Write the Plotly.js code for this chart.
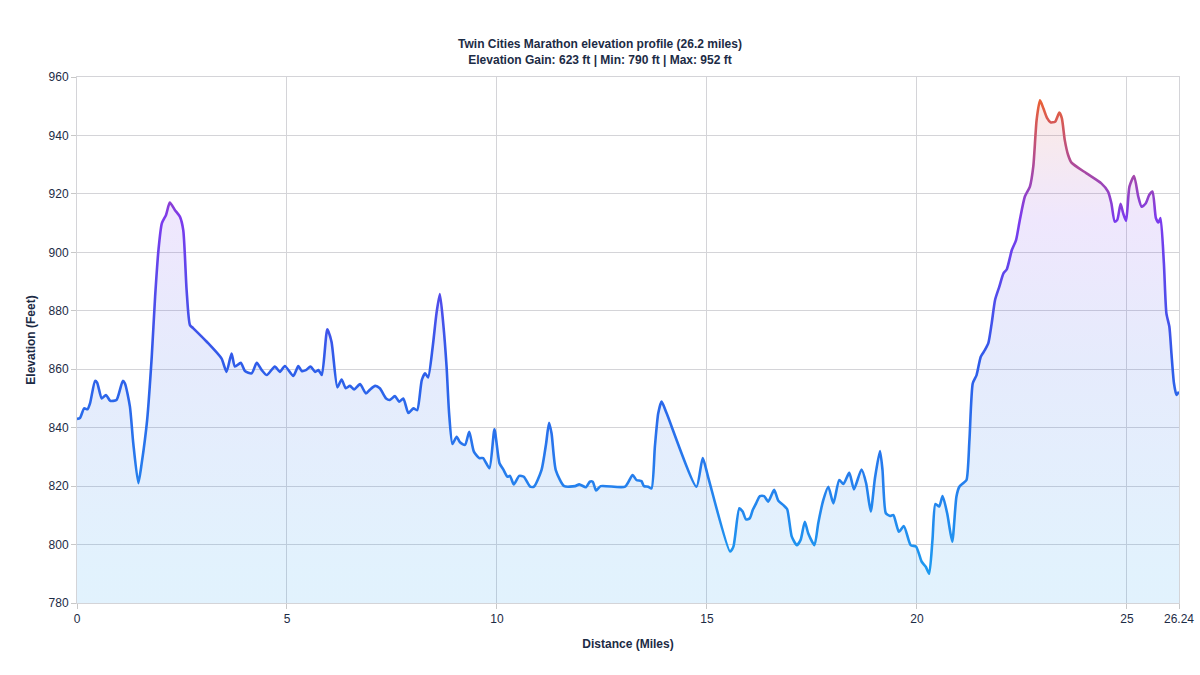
<!DOCTYPE html>
<html>
<head>
<meta charset="utf-8">
<script src="https://cdn.plot.ly/plotly-3.0.1.min.js"></script>
<style>
  html, body { margin: 0; padding: 0; background: #ffffff; }
  #chart { width: 1200px; height: 675px; }
</style>
</head>
<body>
<div id="chart"></div>
<script>
// Distance along the course (miles)
const distanceMiles = [
  0, 0.07, 0.17, 0.25, 0.31, 0.43, 0.48, 0.59, 0.69, 0.79, 0.94, 1.09, 1.14, 1.26, 1.34, 1.46, 1.54, 1.67, 1.78, 1.86,
  1.94, 2.02, 2.12, 2.21, 2.33, 2.45, 2.53, 2.61, 2.69, 2.77, 3.09, 3.44, 3.56, 3.68, 3.76, 3.9, 4.0, 4.16, 4.28, 4.4,
  4.52, 4.71, 4.83, 4.95, 5.15, 5.27, 5.35, 5.45, 5.56, 5.67, 5.75, 5.83, 5.96, 6.06, 6.2, 6.3, 6.4, 6.5, 6.6, 6.74,
  6.88, 6.98, 7.1, 7.21, 7.36, 7.45, 7.57, 7.67, 7.77, 7.89, 8.01, 8.1, 8.21, 8.29, 8.36, 8.47, 8.56, 8.64, 8.72, 8.8,
  8.86, 8.94, 9.04, 9.12, 9.24, 9.34, 9.45, 9.58, 9.67, 9.82, 9.94, 10.06, 10.15, 10.25, 10.31, 10.4, 10.53, 10.64, 10.79, 10.88,
  11.06, 11.17, 11.24, 11.3, 11.4, 11.6, 11.86, 11.96, 12.12, 12.21, 12.28, 12.36, 12.47, 13.05, 13.23, 13.32, 13.44, 13.5, 13.6, 13.68,
  13.76, 13.84, 13.92, 14.04, 14.75, 14.9, 15.03, 15.55, 15.63, 15.77, 15.85, 15.93, 16.02, 16.09, 16.17, 16.26, 16.36, 16.46, 16.6, 16.7,
  16.82, 16.91, 17.02, 17.14, 17.23, 17.33, 17.41, 17.56, 17.65, 17.77, 17.89, 18.01, 18.15, 18.25, 18.39, 18.5, 18.68, 18.79, 18.9, 19.0,
  19.12, 19.18, 19.26, 19.36, 19.44, 19.57, 19.69, 19.85, 19.98, 20.11, 20.21, 20.29, 20.37, 20.44, 20.53, 20.61, 20.72, 20.84, 20.94, 21.01,
  21.1, 21.18, 21.25, 21.33, 21.42, 21.52, 21.62, 21.7, 21.78, 21.86, 21.96, 22.06, 22.14, 22.26, 22.36, 22.45, 22.57, 22.69, 22.77, 22.85,
  22.93, 23.01, 23.1, 23.18, 23.29, 23.39, 23.45, 23.52, 23.6, 23.68, 24.04, 24.39, 24.55, 24.63, 24.71, 24.77, 24.85, 24.91, 24.98, 25.06,
  25.17, 25.27, 25.35, 25.45, 25.53, 25.61, 25.69, 25.75, 25.8, 25.88, 25.94, 26.01, 26.06, 26.12, 26.18, 26.24
];

// Elevation (feet)
const elevationFeet = [
  843, 843.3, 846.6, 846.3, 848.3, 856, 855.4, 850, 851.2, 849.2, 849.5, 856, 855.2, 847.2, 834.6, 821, 827.8, 842.6, 864.3, 884.8,
  900.8, 909.9, 912.8, 917, 914.5, 912.2, 907.6, 887.1, 875.1, 874, 869.4, 863.7, 859.1, 865.4, 860.9, 862.2, 859.4, 858.6, 862.2, 859.7,
  858, 860.9, 859.1, 861.1, 857.7, 861.1, 859.4, 859.7, 860.9, 859.1, 859.7, 858, 873.7, 869.4, 853.8, 856.5, 853.5, 854.3, 853.1, 854.9,
  851.7, 853.1, 854.3, 853.5, 850, 849.5, 850.8, 848.9, 850, 845, 846.6, 846, 856.3, 858.6, 857.2, 867.7, 879.1, 885.7, 875.7, 860.9,
  845, 834.4, 836.9, 835, 834.1, 838.6, 831.8, 829.6, 829.6, 826.1, 839.4, 827.8, 825.7, 823.2, 823.5, 820.6, 823.5, 823.2, 819.8, 819.8,
  825.5, 834.6, 841.7, 838, 825.5, 820, 820, 820.6, 819.6, 821.5, 821.5, 818.5, 820, 819.8, 823.8, 822.1, 821.7, 820, 819.8, 819.2,
  833.5, 844.9, 848.9, 844.9, 819.8, 829.6, 823, 797.6, 799.3, 812.4, 811.3, 808.6, 809, 811.8, 814.1, 816.6, 816.6, 814.7, 818.7, 815,
  813.5, 812.1, 802.7, 799.8, 801.6, 807.8, 803.9, 799.8, 807.3, 815.2, 819.8, 814.1, 822.1, 820.7, 824.6, 818.9, 825.7, 821, 811.3, 822.7,
  832, 825.5, 810.7, 809.8, 810.1, 804.4, 806.3, 799.8, 799.3, 794.2, 792.4, 790, 801.6, 813.9, 813, 816.6, 810.7, 801, 816.4, 819.8,
  821, 822.1, 835.8, 855.2, 858, 864.3, 866.6, 868.9, 875.7, 883.7, 888.2, 892.8, 894.2, 900.8, 904.2, 911.1, 919.1, 922.5, 929.3, 945.3,
  952, 949.3, 945.9, 944.5, 944.7, 947.8, 945.9, 938.4, 933.3, 930.7, 927, 923.6, 920.8, 916.8, 910.5, 911.1, 916.6, 913.4, 910.8, 922.5,
  926.1, 919.1, 915.6, 916.8, 919.6, 920.8, 911.7, 910.2, 911.7, 896.3, 879.1, 874.6, 865.4, 855.2, 851.2, 852.3
];

const xTickValues = [0, 5, 10, 15, 20, 25, 26.24];
const xTickLabels = ['0', '5', '10', '15', '20', '25', '26.24'];
const yTickValues = [780, 800, 820, 840, 860, 880, 900, 920, 940, 960];

const chartTitle = 'Twin Cities Marathon elevation profile (26.2 miles)<br>Elevation Gain: 623 ft | Min: 790 ft | Max: 952 ft';
const xTitle = 'Distance (Miles)';
const yTitle = 'Elevation (Feet)';

// colour stops by elevation (fraction between min and max elevation)
const lineStops = [
  [0.0, '#1d9bf0'],
  [0.45, '#2f5be9'],
  [0.75, '#7c3aed'],
  [1.0, '#ea6034']
];
const fillStops = [
  [0.0, 'rgba(29,155,240,0.13)'],
  [0.45, 'rgba(47,91,233,0.12)'],
  [0.75, 'rgba(124,58,237,0.12)'],
  [1.0, 'rgba(234,96,52,0.13)']
];

const minElev = Math.min(...elevationFeet);
const maxElev = Math.max(...elevationFeet);

const fontFamily = '"Liberation Sans", Arial, Helvetica, sans-serif';
const ink = '#1c2b45';

const trace = {
  type: 'scatter',
  mode: 'lines',
  x: distanceMiles,
  y: elevationFeet,
  line: { color: '#2f5be9', width: 2.6, shape: 'spline', smoothing: 0.6 },
  fill: 'tozeroy',
  fillcolor: 'rgba(47,91,233,0.12)',
  hoverinfo: 'x+y',
  showlegend: false
};

const layout = {
  width: 1200,
  height: 675,
  paper_bgcolor: '#ffffff',
  plot_bgcolor: '#ffffff',
  margin: { l: 77, r: 21, t: 77, b: 72 },
  font: { family: fontFamily, color: ink, size: 13 },
  title: {
    text: chartTitle,
    x: 0.5, xanchor: 'center',
    y: 0.929, yanchor: 'middle',
    font: { family: fontFamily, size: 12, color: ink, weight: 'bold' }
  },
  xaxis: {
    range: [0, 26.24],
    tickmode: 'array',
    tickvals: xTickValues,
    ticktext: xTickLabels,
    ticks: 'outside', ticklen: 5, tickcolor: '#c8c8c8',
    showgrid: true, gridcolor: '#d4d4d8', gridwidth: 1,
    zeroline: false,
    showline: true, linecolor: '#d4d4d8', linewidth: 1, mirror: true,
    tickfont: { family: fontFamily, size: 12, color: ink },
    title: { text: xTitle, standoff: 14, font: { family: fontFamily, size: 12, color: ink, weight: 'bold' } }
  },
  yaxis: {
    range: [780, 960],
    tickmode: 'array',
    tickvals: yTickValues,
    ticks: 'outside', ticklen: 5, tickcolor: '#c8c8c8',
    showgrid: true, gridcolor: '#d4d4d8', gridwidth: 1,
    zeroline: false,
    showline: true, linecolor: '#d4d4d8', linewidth: 1, mirror: true,
    tickfont: { family: fontFamily, size: 12, color: ink },
    title: { text: yTitle, standoff: 10, font: { family: fontFamily, size: 12, color: ink, weight: 'bold' } }
  }
};

const gd = document.getElementById('chart');
Plotly.newPlot(gd, [trace], layout, { displayModeBar: false, responsive: false }).then(function () {
  const ya = gd._fullLayout.yaxis;
  const svgNS = 'http://www.w3.org/2000/svg';
  const svg = gd.querySelector('svg.main-svg');
  let defs = svg.querySelector('defs');
  if (!defs) { defs = document.createElementNS(svgNS, 'defs'); svg.insertBefore(defs, svg.firstChild); }

  function makeGradient(id, stops, lowValue, highValue) {
    const g = document.createElementNS(svgNS, 'linearGradient');
    g.setAttribute('id', id);
    g.setAttribute('gradientUnits', 'userSpaceOnUse');
    g.setAttribute('x1', '0'); g.setAttribute('x2', '0');
    g.setAttribute('y1', String(ya.l2p(lowValue)));
    g.setAttribute('y2', String(ya.l2p(highValue)));
    stops.forEach(function (s) {
      const st = document.createElementNS(svgNS, 'stop');
      st.setAttribute('offset', String(s[0]));
      st.setAttribute('stop-color', s[1]);
      g.appendChild(st);
    });
    defs.appendChild(g);
  }
  makeGradient('elevLineGrad', lineStops, minElev, maxElev);
  makeGradient('elevFillGrad', fillStops, minElev, maxElev);

  const linePath = gd.querySelector('.scatterlayer .trace .js-line');
  if (linePath) { linePath.style.stroke = 'url(#elevLineGrad)'; linePath.style.strokeOpacity = '1'; }
  const fillPath = gd.querySelector('.scatterlayer .trace .js-fill');
  if (fillPath) { fillPath.style.fill = 'url(#elevFillGrad)'; fillPath.style.fillOpacity = '1'; }
});
</script>
</body>
</html>
